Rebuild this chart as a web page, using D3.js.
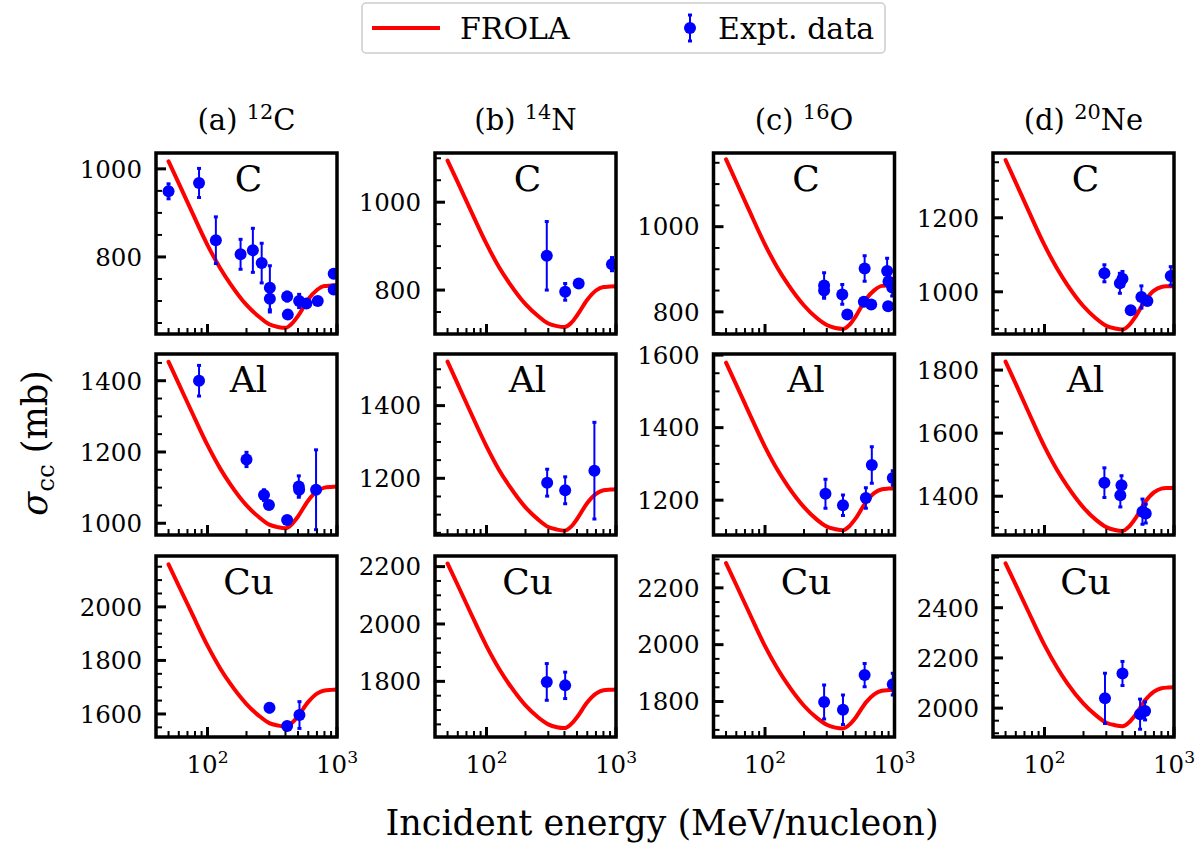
<!DOCTYPE html>
<html><head><meta charset="utf-8">
<script src="https://cdn.jsdelivr.net/npm/d3@7"></script>
<style>
body{margin:0;background:#fff}
svg{display:block}
text{font-family:"DejaVu Serif","Liberation Serif",serif;fill:#000}
</style>
</head><body>
<svg id="chart" width="1202" height="852"></svg>
<script>
// ---------------- data ----------------
const projLabels = ["(a)", "(b)", "(c)", "(d)"];
const projMass = ["12", "14", "16", "20"];
const projSymbol = ["C", "N", "O", "Ne"];
const targets = ["C", "Al", "Cu"];

const xDomain = [40, 1000];
const xMajorTicks = [100, 1000];
const xTickExponents = ["2", "3"];

// FROLA curve energies (MeV/nucleon)
const energies = [50, 60, 75, 100, 125, 150, 200, 250, 300, 350, 400, 450, 500, 600, 700, 800, 900, 1000];

// FROLA curves (mb)
const frola_C12_C  = [1017, 967, 905, 827, 775, 739, 691, 664, 647, 641, 639, 649, 666, 704, 725, 734, 735, 736];
const frola_N14_C  = [1095, 1045, 983, 905, 852, 816, 768, 741, 724, 718, 716, 725, 742, 778, 799, 807, 808, 809];
const frola_O16_C  = [1158, 1105, 1040, 958, 903, 865, 815, 786, 769, 762, 760, 770, 789, 829, 851, 861, 862, 863];
const frola_Ne20_C = [1356, 1295, 1220, 1126, 1063, 1019, 961, 928, 908, 901, 898, 910, 931, 977, 1003, 1013, 1015, 1016];
const frola_C12_Al  = [1453, 1391, 1315, 1219, 1154, 1109, 1050, 1017, 996, 989, 986, 998, 1019, 1064, 1090, 1100, 1102, 1103];
const frola_N14_Al  = [1521, 1459, 1383, 1288, 1223, 1179, 1120, 1087, 1066, 1059, 1056, 1067, 1088, 1132, 1157, 1167, 1169, 1170];
const frola_O16_Al  = [1579, 1518, 1442, 1347, 1283, 1239, 1181, 1147, 1127, 1120, 1117, 1129, 1149, 1194, 1220, 1230, 1232, 1233];
const frola_Ne20_Al = [1827, 1756, 1668, 1557, 1483, 1432, 1364, 1325, 1302, 1293, 1290, 1304, 1328, 1382, 1412, 1424, 1426, 1427];
const frola_C12_Cu  = [2159, 2078, 1980, 1855, 1771, 1713, 1637, 1593, 1566, 1557, 1553, 1567, 1592, 1645, 1676, 1688, 1690, 1691];
const frola_N14_Cu  = [2211, 2135, 2041, 1923, 1844, 1789, 1716, 1675, 1650, 1640, 1637, 1651, 1675, 1727, 1757, 1769, 1771, 1772];
const frola_O16_Cu  = [2287, 2210, 2115, 1995, 1915, 1859, 1785, 1743, 1718, 1708, 1705, 1719, 1743, 1796, 1826, 1838, 1840, 1841];
const frola_Ne20_Cu = [2577, 2491, 2385, 2251, 2162, 2099, 2018, 1971, 1942, 1932, 1928, 1944, 1971, 2032, 2066, 2079, 2082, 2083];

// Experimental data: [energy, sigma, error]
const expt_C12_C = [[50,949,17],[86,968,33],[116,838,53],[180,806,34],[224,815,50],[262,786,45],[303,730,50],[303,705,30],[412,710,10],[417,669,6],[510,700,15],[580,694,6],[710,700,6],[943,762,8],[943,726,8]];
const expt_N14_C = [[292,878,78],[405,796,19],[515,815,5],[931,859,15]];
const expt_O16_C = [[286,862,30],[286,850,15],[395,841,23],[432,794,6],[588,902,30],[580,824,6],[661,817,6],[877,896,30],[899,871,8],[893,813,6],[960,857,20]];
const expt_Ne20_C = [[290,1050,23],[382,1023,27],[400,1035,20],[463,950,6],[560,986,30],[623,975,8],[944,1043,25]];
const expt_C12_Al = [[86,1400,43],[200,1179,20],[273,1079,15],[298,1051,10],[412,1009,5],[507,1103,30],[510,1094,15],[689,1094,112]];
const expt_N14_Al = [[294,1188,37],[405,1167,37],[681,1221,133]];
const expt_O16_Al = [[293,1218,40],[400,1186,28],[601,1206,28],[668,1297,50],[970,1261,20]];
const expt_Ne20_Al = [[290,1443,47],[393,1435,30],[385,1403,37],[571,1351,40],[605,1345,30]];
const expt_C12_Cu = [[301,1623,15],[412,1555,8],[513,1596,50]];
const expt_N14_Cu = [[292,1798,64],[405,1786,46]];
const expt_O16_Cu = [[286,1798,60],[400,1771,52],[588,1893,41],[970,1861,38]];
const expt_Ne20_Cu = [[293,2039,100],[400,2138,48],[547,1976,60],[598,1989,36]];

// y-axis limits and labelled ticks
const yLimits = [
  [[625,1036],[700,1112],[748,1173],[886,1375]],
  [[967,1475],[1044,1542],[1104,1603],[1277,1851]],
  [[1514,2190],[1606,2237],[1675,2312],[1885,2606]]
];
const yMajorTicks = [
  [[800,1000],[800,1000],[800,1000],[1000,1200]],
  [[1000,1200,1400],[1200,1400],[1200,1400,1600],[1400,1600,1800]],
  [[1600,1800,2000],[1800,2000,2200],[1800,2000,2200],[2000,2200,2400]]
];
const yMinorStep = 50;

const frola = [
  [frola_C12_C, frola_N14_C, frola_O16_C, frola_Ne20_C],
  [frola_C12_Al, frola_N14_Al, frola_O16_Al, frola_Ne20_Al],
  [frola_C12_Cu, frola_N14_Cu, frola_O16_Cu, frola_Ne20_Cu]
];
const expt = [
  [expt_C12_C, expt_N14_C, expt_O16_C, expt_Ne20_C],
  [expt_C12_Al, expt_N14_Al, expt_O16_Al, expt_Ne20_Al],
  [expt_C12_Cu, expt_N14_Cu, expt_O16_Cu, expt_Ne20_Cu]
];

// ---------------- layout ----------------
const svg = d3.select("#chart");
const W = 181, H = 181;
const colX = [156, 435, 713.5, 993];
const rowY = [153, 354, 556];
const RED = "#ff0000", BLUE = "#0000ff";
const tickFont = 24.5, panelFont = 36, titleFont = 29, labelFont = 35, legendFont = 30;

const x = d3.scaleLog().domain(xDomain).range([0, W]);
const line = d3.line().curve(d3.curveMonotoneX);

// column titles
projLabels.forEach((lab, c) => {
  const t = svg.append("text")
    .attr("x", colX[c] + W / 2).attr("y", 130)
    .attr("text-anchor", "middle").style("font-size", titleFont + "px");
  t.append("tspan").text(lab + " ");
  t.append("tspan").attr("dy", -11).style("font-size", (titleFont * 0.72) + "px").text(projMass[c]);
  t.append("tspan").attr("dy", 11).text(projSymbol[c]);
});

const defs = svg.append("defs");

targets.forEach((tg, r) => {
  projLabels.forEach((_, c) => {
    const g = svg.append("g").attr("transform", `translate(${colX[c]},${rowY[r]})`);
    const y = d3.scaleLinear().domain(yLimits[r][c]).range([H, 0]);
    const id = `clip${r}${c}`;
    defs.append("clipPath").attr("id", id).append("rect").attr("width", W).attr("height", H);

    const plot = g.append("g").attr("clip-path", `url(#${id})`);
    plot.append("path")
      .attr("d", line(energies.map((e, i) => [x(e), y(frola[r][c][i])])))
      .attr("fill", "none").attr("stroke", RED).attr("stroke-width", 4)
      .attr("stroke-linejoin", "round").attr("stroke-linecap", "round");
    const pts = plot.selectAll("g.pt").data(expt[r][c]).enter().append("g");
    pts.append("line")
      .attr("x1", d => x(d[0])).attr("x2", d => x(d[0]))
      .attr("y1", d => y(d[1] - d[2])).attr("y2", d => y(d[1] + d[2]))
      .attr("stroke", BLUE).attr("stroke-width", 2);
    [-1, 1].forEach(s => {
      pts.append("line")
        .attr("x1", d => x(d[0]) - 2).attr("x2", d => x(d[0]) + 2)
        .attr("y1", d => y(d[1] + s * d[2])).attr("y2", d => y(d[1] + s * d[2]))
        .attr("stroke", BLUE).attr("stroke-width", 3);
    });
    pts.append("circle")
      .attr("cx", d => x(d[0])).attr("cy", d => y(d[1])).attr("r", 6)
      .attr("fill", BLUE);

    // y ticks
    const [y0, y1] = yLimits[r][c];
    const minor = d3.range(Math.ceil(y0 / yMinorStep) * yMinorStep, y1 + 0.001, yMinorStep);
    minor.forEach(v => {
      const major = yMajorTicks[r][c].includes(v);
      g.append("line").attr("x1", 0).attr("x2", major ? 10 : 6)
        .attr("y1", y(v)).attr("y2", y(v))
        .attr("stroke", "#000").attr("stroke-width", major ? 3 : 2);
    });
    yMajorTicks[r][c].forEach(v => {
      g.append("text").attr("x", -14).attr("y", y(v)).attr("dy", "0.36em")
        .attr("text-anchor", "end").style("font-size", tickFont + "px").text(v);
    });

    // x ticks
    const xMinor = [];
    [10, 100].forEach(dec => { for (let k = 2; k <= 9; k++) { const v = dec * k; if (v >= xDomain[0] && v <= xDomain[1]) xMinor.push(v); } });
    xMinor.forEach(v => {
      g.append("line").attr("x1", x(v)).attr("x2", x(v)).attr("y1", H).attr("y2", H - 6)
        .attr("stroke", "#000").attr("stroke-width", 2);
    });
    xMajorTicks.forEach((v, i) => {
      g.append("line").attr("x1", x(v)).attr("x2", x(v)).attr("y1", H).attr("y2", H - 10)
        .attr("stroke", "#000").attr("stroke-width", 3);
      if (r === 2) {
        const t = g.append("text").attr("x", x(v)).attr("y", H + 36)
          .attr("text-anchor", "middle").style("font-size", tickFont + "px");
        t.append("tspan").text("10");
        t.append("tspan").attr("dy", -10).style("font-size", (tickFont * 0.7) + "px").text(xTickExponents[i]);
      }
    });

    g.append("rect").attr("width", W).attr("height", H)
      .attr("fill", "none").attr("stroke", "#000").attr("stroke-width", 3.5);

    g.append("text").attr("x", W / 2 + 2).attr("y", 38)
      .attr("text-anchor", "middle").style("font-size", panelFont + "px").text(tg);
  });
});

// axis labels
const yl = svg.append("text")
  .attr("transform", "translate(47,443) rotate(-90)")
  .attr("text-anchor", "middle").style("font-size", labelFont + "px");
yl.append("tspan").style("font-style", "italic").text("σ");
yl.append("tspan").attr("dy", 7).style("font-size", (labelFont * 0.7) + "px").text("cc");
yl.append("tspan").attr("dy", -7).text(" (mb)");

svg.append("text").attr("x", 662).attr("y", 835)
  .attr("text-anchor", "middle").style("font-size", labelFont + "px")
  .text("Incident energy (MeV/nucleon)");

// legend
const lg = svg.append("g");
lg.append("rect").attr("x", 362).attr("y", 3).attr("width", 523).attr("height", 50).attr("rx", 4)
  .attr("fill", "#fff").attr("stroke", "#cccccc").attr("stroke-width", 1.5);
lg.append("line").attr("x1", 372).attr("x2", 440).attr("y1", 28).attr("y2", 28)
  .attr("stroke", RED).attr("stroke-width", 4);
lg.append("text").attr("x", 460).attr("y", 39).style("font-size", legendFont + "px").text("FROLA");
lg.append("line").attr("x1", 690).attr("x2", 690).attr("y1", 15).attr("y2", 41)
  .attr("stroke", BLUE).attr("stroke-width", 2);
[15, 41].forEach(yy => lg.append("line").attr("x1", 688).attr("x2", 692).attr("y1", yy).attr("y2", yy)
  .attr("stroke", BLUE).attr("stroke-width", 3));
lg.append("circle").attr("cx", 690).attr("cy", 28).attr("r", 6).attr("fill", BLUE);
lg.append("text").attr("x", 718).attr("y", 39).style("font-size", legendFont + "px").text("Expt. data");
</script>
</body></html>
